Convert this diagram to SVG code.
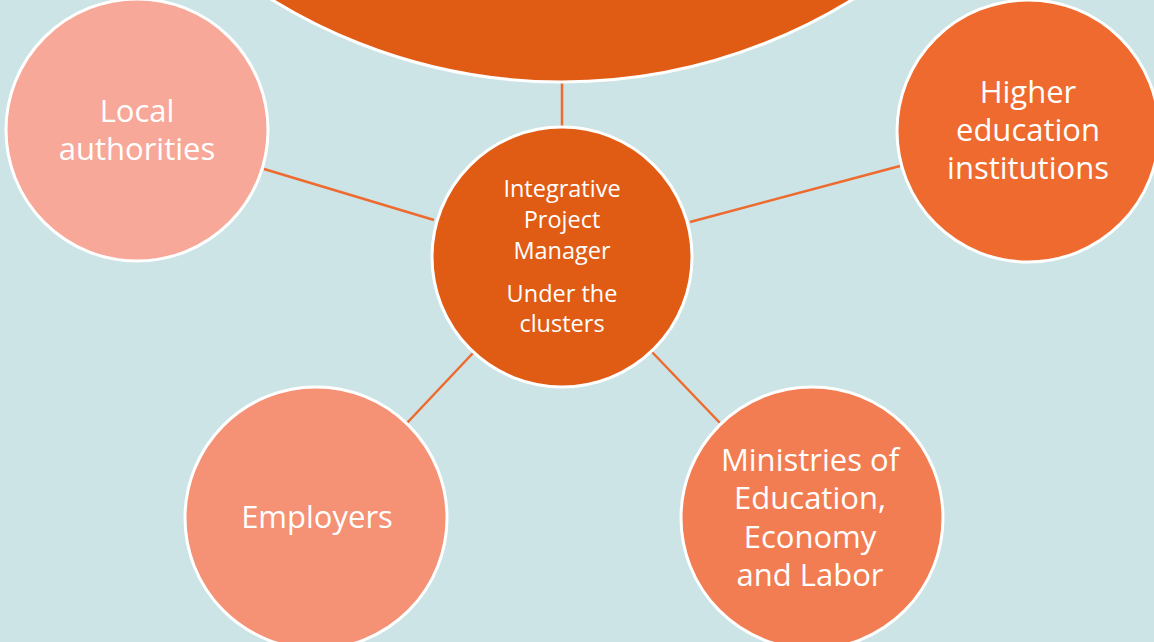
<svg xmlns="http://www.w3.org/2000/svg" width="1154" height="642" viewBox="0 0 1154 642">
<style>
.n{stroke:#fff;stroke-width:3}
.t{font-family:"Open Sans","Noto Sans",sans-serif;fill:#fff;text-anchor:middle}
.big{font-size:31px}
.sm{font-size:23.5px}
.c{stroke:#EE6A2E;stroke-width:2.5;fill:none}
</style>
<rect width="1154" height="642" fill="#CCE4E6"/>
<g id="connectors">
<line class="c" x1="562" y1="83" x2="562" y2="128"/>
<line class="c" x1="264" y1="169" x2="434" y2="220"/>
<line class="c" x1="900" y1="166" x2="690" y2="222"/>
<line class="c" x1="407" y1="423" x2="473" y2="353"/>
<line class="c" x1="652" y1="352" x2="720" y2="423"/>
</g>
<g id="top">
<circle class="n" cx="562" cy="-470" r="552" fill="#E05C15"/>
</g>
<g id="center">
<circle class="n" cx="562" cy="257" r="130" fill="#E05C15"/>
<text class="t sm" x="562" y="197">Integrative</text>
<text class="t sm" x="562" y="228">Project</text>
<text class="t sm" x="562" y="259">Manager</text>
<text class="t sm" x="562" y="302">Under the</text>
<text class="t sm" x="562" y="332">clusters</text>
</g>
<g id="local">
<circle class="n" cx="137" cy="130" r="131" fill="#F8A898"/>
<text class="t big" x="137" y="122">Local</text>
<text class="t big" x="137" y="160">authorities</text>
</g>
<g id="higher">
<circle class="n" cx="1028" cy="131" r="131" fill="#EE6A2E"/>
<text class="t big" x="1028" y="103">Higher</text>
<text class="t big" x="1028" y="141">education</text>
<text class="t big" x="1028" y="179">institutions</text>
</g>
<g id="employers">
<circle class="n" cx="316" cy="518" r="131" fill="#F59175"/>
<text class="t big" x="317" y="528">Employers</text>
</g>
<g id="ministries">
<circle class="n" cx="812" cy="518" r="131" fill="#F27D52"/>
<text class="t big" x="810" y="471">Ministries of</text>
<text class="t big" x="810" y="509">Education,</text>
<text class="t big" x="810" y="548">Economy</text>
<text class="t big" x="810" y="586">and Labor</text>
</g>
</svg>
